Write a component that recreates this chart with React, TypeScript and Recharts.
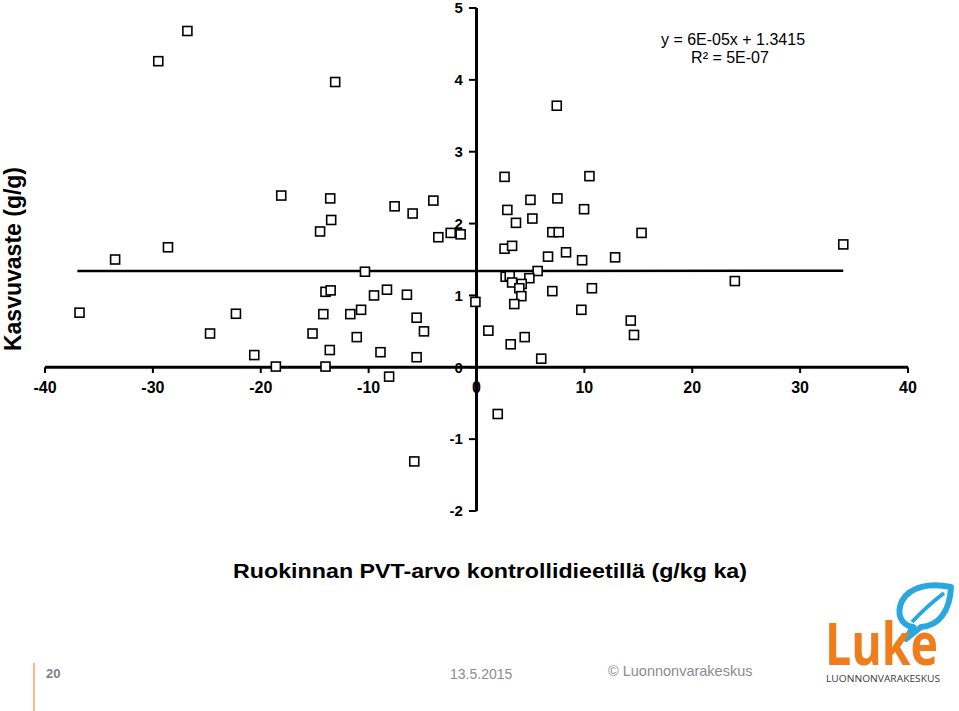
import React from 'react';
import { ComposedChart, Scatter, XAxis, YAxis, ReferenceLine } from 'recharts';

// PVT-arvo (g/kg ka) vs. kasvuvaste (g/g)
const pvtValues = [
  -26.8, -29.5, -13.1, 7.44,
  -18.1, -13.56, -13.47, -14.5, -7.59, -5.92, -4.0, -3.54, -2.39, -1.47,
  -28.6, -33.5, -10.34, -14.0, -13.52, -8.3, -9.5, -6.45, -0.1,
  -36.8, -22.3, -14.2, -11.7, -10.7, -5.55, -4.87, -24.7, -15.2, -11.1,
  -13.6, -8.9, -5.55, -20.6, -18.6, -14.0, -8.1, -5.77,
  2.6, 10.47, 5.0, 7.5, 2.86, 9.97, 3.66, 5.18, 7.03, 7.62, 15.3, 34.0,
  2.6, 3.3, 6.63, 8.3, 9.79, 12.85, 5.67, 2.7, 3.08, 3.3, 4.9, 4.19, 3.97,
  4.16, 3.5, 7.03, 10.7, 23.95, 9.72, 14.3, 14.6, 1.1, 3.17, 4.47, 6.0, 1.97,
];
const kasvuValues = [
  4.68, 4.26, 3.97, 3.64,
  2.39, 2.35, 2.05, 1.89, 2.24, 2.14, 2.32, 1.81, 1.87, 1.85,
  1.67, 1.5, 1.33, 1.05, 1.07, 1.08, 1.0, 1.01, 0.91,
  0.76, 0.745, 0.74, 0.74, 0.8, 0.69, 0.5, 0.47, 0.47, 0.42,
  0.24, 0.21, 0.14, 0.17, 0.01, 0.01, -0.13, -1.31,
  2.65, 2.66, 2.33, 2.35, 2.19, 2.2, 2.01, 2.07, 1.88, 1.88, 1.87, 1.71,
  1.65, 1.69, 1.54, 1.6, 1.49, 1.53, 1.34, 1.26, 1.27, 1.18, 1.24, 1.16, 1.1,
  0.99, 0.88, 1.06, 1.1, 1.2, 0.8, 0.65, 0.45, 0.51, 0.32, 0.42, 0.12, -0.65,
];

// linear trend (y = 6E-05x + 1.3415) end points
const trendX = [-37, 34];
const trendY = [1.3393, 1.3435];

const xTicks = [-40, -30, -20, -10, 0, 10, 20, 30, 40];
const yTicks = [-2, -1, 0, 1, 2, 3, 4, 5];

const FONT = '"Liberation Sans", Arial, sans-serif';

const points = pvtValues.map((x, i) => ({ x, y: kasvuValues[i] }));
const trend = trendX.map((x, i) => ({ x, y: trendY[i] }));

const SquareDot = (props: any) => {
  const { cx, cy } = props;
  if (cx == null || cy == null) return <g />;
  return <rect x={cx - 4.5} y={cy - 4.5} width={9} height={9} fill="#fff" stroke="#000" strokeWidth={1.6} />;
};

const NoDot = () => <g />;

export default function App() {
  return (
    <div style={{ position: 'absolute', left: 0, top: 0, width: 959, height: 711, background: '#fff', overflow: 'hidden', fontFamily: FONT }}>
      <svg width={959} height={711} style={{ position: 'absolute', left: 0, top: 0 }}>
        {/* y-akselin otsikko */}
        <text
          transform="translate(21,259) rotate(-90)"
          textAnchor="middle"
          fontSize={23}
          fontWeight="bold"
          fill="#000"
          fontFamily={FONT}
        >
          Kasvuvaste (g/g)
        </text>

        {/* regressioyhtälö */}
        <text x={733} y={45} textAnchor="middle" fontSize={16} fill="#000" fontFamily={FONT}>y = 6E-05x + 1.3415</text>
        <text x={730} y={63} textAnchor="middle" fontSize={16} fill="#000" fontFamily={FONT}>R² = 5E-07</text>

        {/* x-akselin otsikko */}
        <text x={233} y={578} fontSize={21} fontWeight="bold" fill="#000" fontFamily={FONT} textLength={514} lengthAdjust="spacingAndGlyphs">
          Ruokinnan PVT-arvo kontrollidieetillä  (g/kg ka)
        </text>

        {/* alatunniste */}
        <line x1={34} y1={663} x2={34} y2={711} stroke="#f5a25d" strokeWidth={1.5} />
        <text x={46} y={678} fontSize={13} fontWeight="bold" fill="#7f7f7f" fontFamily={FONT}>20</text>
        <text x={450} y={679} fontSize={14} fill="#8c8c8c" fontFamily={FONT}>13.5.2015</text>
        <text x={608} y={676} fontSize={14.5} fill="#8c8c8c" fontFamily={FONT}>© Luonnonvarakeskus</text>

        {/* Luke-logo */}
        <path
          d="M 951 587 C 930 583 910 586 902 601 C 896 614 901 625 913 627 L 906 639 L 921 627 C 938 626 950 612 951 587 Z"
          fill="none"
          stroke="#29a8df"
          strokeWidth={6}
          strokeLinejoin="round"
        />
        <path d="M 912 622 Q 926 607 944 593" fill="none" stroke="#29a8df" strokeWidth={4} />
        <g transform="translate(825,665) scale(1,1.3)">
          <text x={0} y={0} fontSize={46} fontWeight="bold" fill="#f07d1c" fontFamily='"Open Sans", Roboto, sans-serif' textLength={113} lengthAdjust="spacingAndGlyphs">Luke</text>
        </g>
        <text x={826} y={682} fontSize={9.5} fill="#3c3c3c" fontFamily='"Open Sans", Roboto, sans-serif' textLength={114} lengthAdjust="spacingAndGlyphs">LUONNONVARAKESKUS</text>
      </svg>

      <div style={{ position: 'absolute', left: 0, top: 0 }}>
        <ComposedChart width={959} height={530} margin={{ top: 8, right: 51, bottom: 19, left: 45 }}>
          <XAxis type="number" dataKey="x" domain={[-40, 40]} ticks={xTicks} hide allowDataOverflow />
          <YAxis type="number" dataKey="y" domain={[-2, 5]} ticks={yTicks} hide allowDataOverflow />

          <ReferenceLine x={0} stroke="#000" strokeWidth={3} />
          <ReferenceLine y={0} stroke="#000" strokeWidth={3} />

          {xTicks.map((v) => (
            <ReferenceLine
              key={'xt' + v}
              segment={[{ x: v, y: 0 }, { x: v, y: -0.08 }]}
              stroke="#000"
              strokeWidth={2}
              label={{ value: String(v), position: 'bottom', offset: 9, fill: '#000', fontSize: 16, fontWeight: 'bold', fontFamily: FONT }}
            />
          ))}
          {yTicks.map((v) => (
            <ReferenceLine
              key={'yt' + v}
              segment={[{ x: -0.7, y: v }, { x: 0, y: v }]}
              stroke="#000"
              strokeWidth={2}
              label={{ value: String(v), position: 'left', offset: 6, fill: '#000', fontSize: 15, fontWeight: 'bold', fontFamily: FONT }}
            />
          ))}

          <Scatter
            data={trend}
            line={{ stroke: '#000', strokeWidth: 2.5 }}
            shape={NoDot}
            isAnimationActive={false}
          />
          <Scatter data={points} shape={SquareDot} isAnimationActive={false} />
        </ComposedChart>
      </div>
    </div>
  );
}
